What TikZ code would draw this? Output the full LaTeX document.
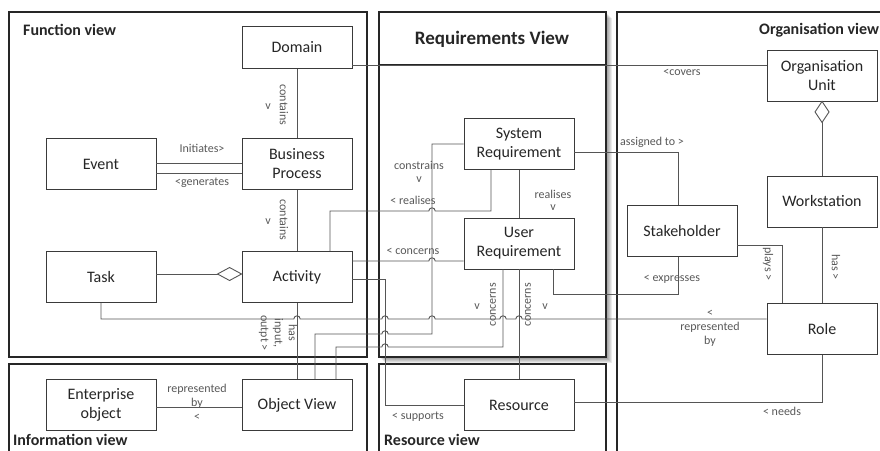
\documentclass[tikz,border=0pt]{standalone}
\usepackage{fontspec}
\setmainfont{Carlito}
\definecolor{boxline}{HTML}{3A3A3A}
\definecolor{connc}{HTML}{555555}
\definecolor{txtc}{HTML}{262626}
\definecolor{lblc}{HTML}{595959}
\tikzset{
  box/.style={draw=boxline, fill=white, line width=0.9pt, minimum width=110pt, minimum height=51pt,
    inner sep=0pt, align=center, font=\fontsize{16}{19}\selectfont, text=txtc},
  lnk/.style={draw=connc, line width=0.9pt},
  lbl/.style={font=\fontsize{12}{14}\selectfont, text=lblc, align=center, inner sep=0pt},
  frm/.style={draw=black!85, line width=1.1pt, fill=white},
  ttl/.style={font=\bfseries\fontsize{16}{19}\selectfont, text=black!85, inner sep=0pt},
  hopup/.style={insert path={arc[start angle=180,end angle=0,radius=3.2pt]}}
}
\begin{document}
\begin{tikzpicture}[x=1pt,y=-1pt]
\useasboundingbox[fill=white] (0,0) rectangle (880,450);
\begin{scope}
\clip (0,0) rectangle (880,450);
\foreach \d in {1,...,6} \fill[black,opacity=0.08] (379+\d,12+\d) rectangle (606+\d,357+\d);
\draw[frm] (9,12) rectangle (367,357);
\draw[frm] (9,364) rectangle (367,470);
\draw[frm] (379,12) rectangle (606,357);
\draw[draw=black!85, line width=1.1pt] (379,64.5) -- (606,64.5);
\draw[frm] (379,364) rectangle (606,470);
\draw[frm] (617,12) rectangle (900,470);
\node[ttl, anchor=west] (tfun) at (23,30) {Function view};
\node[ttl, font=\bfseries\fontsize{19}{22}\selectfont] (treq) at (492,39) {Requirements View};
\node[ttl, anchor=west] (torg) at (759,30) {Organisation view};
\node[ttl, anchor=west] (tinf) at (13,440) {Information view};
\node[ttl, anchor=west] (tres) at (384,440) {Resource view};
\end{scope}

% nodes
\node[box, minimum height=42pt] (domain) at (297,47.5) {Domain};
\node[box] (bp) at (297,164) {Business\\Process};
\node[box] (event) at (101,164) {Event};
\node[box] (task) at (101,277) {Task};
\node[box] (act) at (297,277) {Activity};
\node[box] (eo) at (101,405) {Enterprise\\object};
\node[box] (ov) at (297,405) {Object View};
\node[box] (sysreq) at (519,144) {System\\Requirement};
\node[box] (userreq) at (519,243.5) {User\\Requirement};
\node[box] (res) at (519,405) {Resource};
\node[box] (org) at (822,75.5) {Organisation\\Unit};
\node[box] (ws) at (822,201.5) {Workstation};
\node[box] (stake) at (682,231) {Stakeholder};
\node[box] (role) at (822,329) {Role};

% connectors
\draw[lnk] ([yshift=-17.5]domain.east) -- ([yshift=10.5]org.west);
\draw[lnk] (domain.south) -- (bp.north);
\draw[lnk] ([yshift=1]event.east) -- ([yshift=1]bp.west);
\draw[lnk] ([yshift=-9]event.east) -- ([yshift=-9]bp.west);
\draw[lnk] (bp.south) -- (act.north);
\draw[lnk] ([yshift=3]task.east) -- ([xshift=-24,yshift=3]act.west);
\draw[lnk, fill=white] ([yshift=3]act.west) -- ++(-12,-6.5) -- ++(-12,6.5) -- ++(12,6.5) -- cycle;
\draw[lnk] (act.south) -- (ov.north);
\draw[lnk] (task.south) -- (101,319) -- (293.8,319) [hopup] -- (381.8,319) [hopup] -- (428.8,319) [hopup]
  -- (499.8,319) [hopup] -- (515.8,319) [hopup] -- ([yshift=10]role.west);
\draw[lnk] ([xshift=33]act.north) -- (330,211) -- (428.8,211) [hopup] -- (491,211) -- ([xshift=-28]sysreq.south);
\draw[lnk] ([xshift=18]ov.north) -- (315,334) -- (381.8,334) [hopup] -- (432,334) -- (432,144) -- (sysreq.west);
\draw[lnk] ([xshift=39]ov.north) -- (336,347) -- (381.8,347) [hopup] -- (503,347) -- ([xshift=-16]userreq.south);
\draw[lnk] (userreq.south) -- (res.north);
\draw[lnk] ([yshift=-2]act.east) -- (385,279) -- (385,405) -- (res.west);
\draw[lnk] ([yshift=16]act.east) -- (428.8,261) [hopup] -- ([yshift=-17.5]userreq.west);
\draw[lnk] (sysreq.south) -- (userreq.north);
\draw[lnk] ([yshift=-8]sysreq.east) -- (678,152) -- ([xshift=-4]stake.north);
\draw[lnk] ([xshift=34]userreq.south) -- (553,294) -- (678,294) -- ([xshift=-4]stake.south);
\draw[lnk] ([yshift=-14]stake.east) -- (782,245) -- ([xshift=-40]role.north);
\draw[lnk] (ws.south) -- (role.north);
\draw[lnk] ([yshift=-21]org.south) -- (ws.north);
\draw[lnk, fill=white] (org.south) -- ++(7,10.5) -- ++(-7,10.5) -- ++(-7,-10.5) -- cycle;
\draw[lnk] (role.south) -- (822,402) -- ([yshift=3]res.east);
\draw[lnk] ([yshift=-2]eo.east) -- ([yshift=-2]ov.west);

% labels
\node[lbl] (l1) at (682,72) {<covers};
\node[lbl, rotate=-90] (l2) at (284,105) {contains};
\node[lbl] (l2v) at (268,107) {v};
\node[lbl] (l3) at (202,148) {Initiates>};
\node[lbl] (l4) at (202,183) {<generates};
\node[lbl, rotate=-90] (l5) at (284,220) {contains};
\node[lbl] (l5v) at (268,222) {v};
\node[lbl, rotate=-90] (l6) at (278,333) {has\\input,\\outpt >};
\node[lbl] (l7) at (197,402) {represented\\by\\<};
\node[lbl] (l8) at (419,165) {constrains};
\node[lbl] (l8v) at (419,180) {v};
\node[lbl] (l9) at (413,200) {< realises};
\node[lbl] (l10) at (553,194) {realises};
\node[lbl] (l10v) at (553,208) {v};
\node[lbl] (l11) at (413,251) {< concerns};
\node[lbl, rotate=90] (l12) at (493,305) {concerns};
\node[lbl] (l12v) at (477,307) {v};
\node[lbl, rotate=90] (l13) at (528,305) {concerns};
\node[lbl] (l13v) at (545,307) {v};
\node[lbl] (l14) at (418,417) {< supports};
\node[lbl] (l15) at (652,142) {assigned to >};
\node[lbl] (l16) at (672,279) {< expresses};
\node[lbl] (l17) at (710,328) {<\\represented\\by};
\node[lbl, rotate=-90] (l18) at (768,264) {plays >};
\node[lbl, rotate=-90] (l19) at (836,267) {has >};
\node[lbl] (l20) at (782,411) {< needs};
\end{tikzpicture}
\end{document}
